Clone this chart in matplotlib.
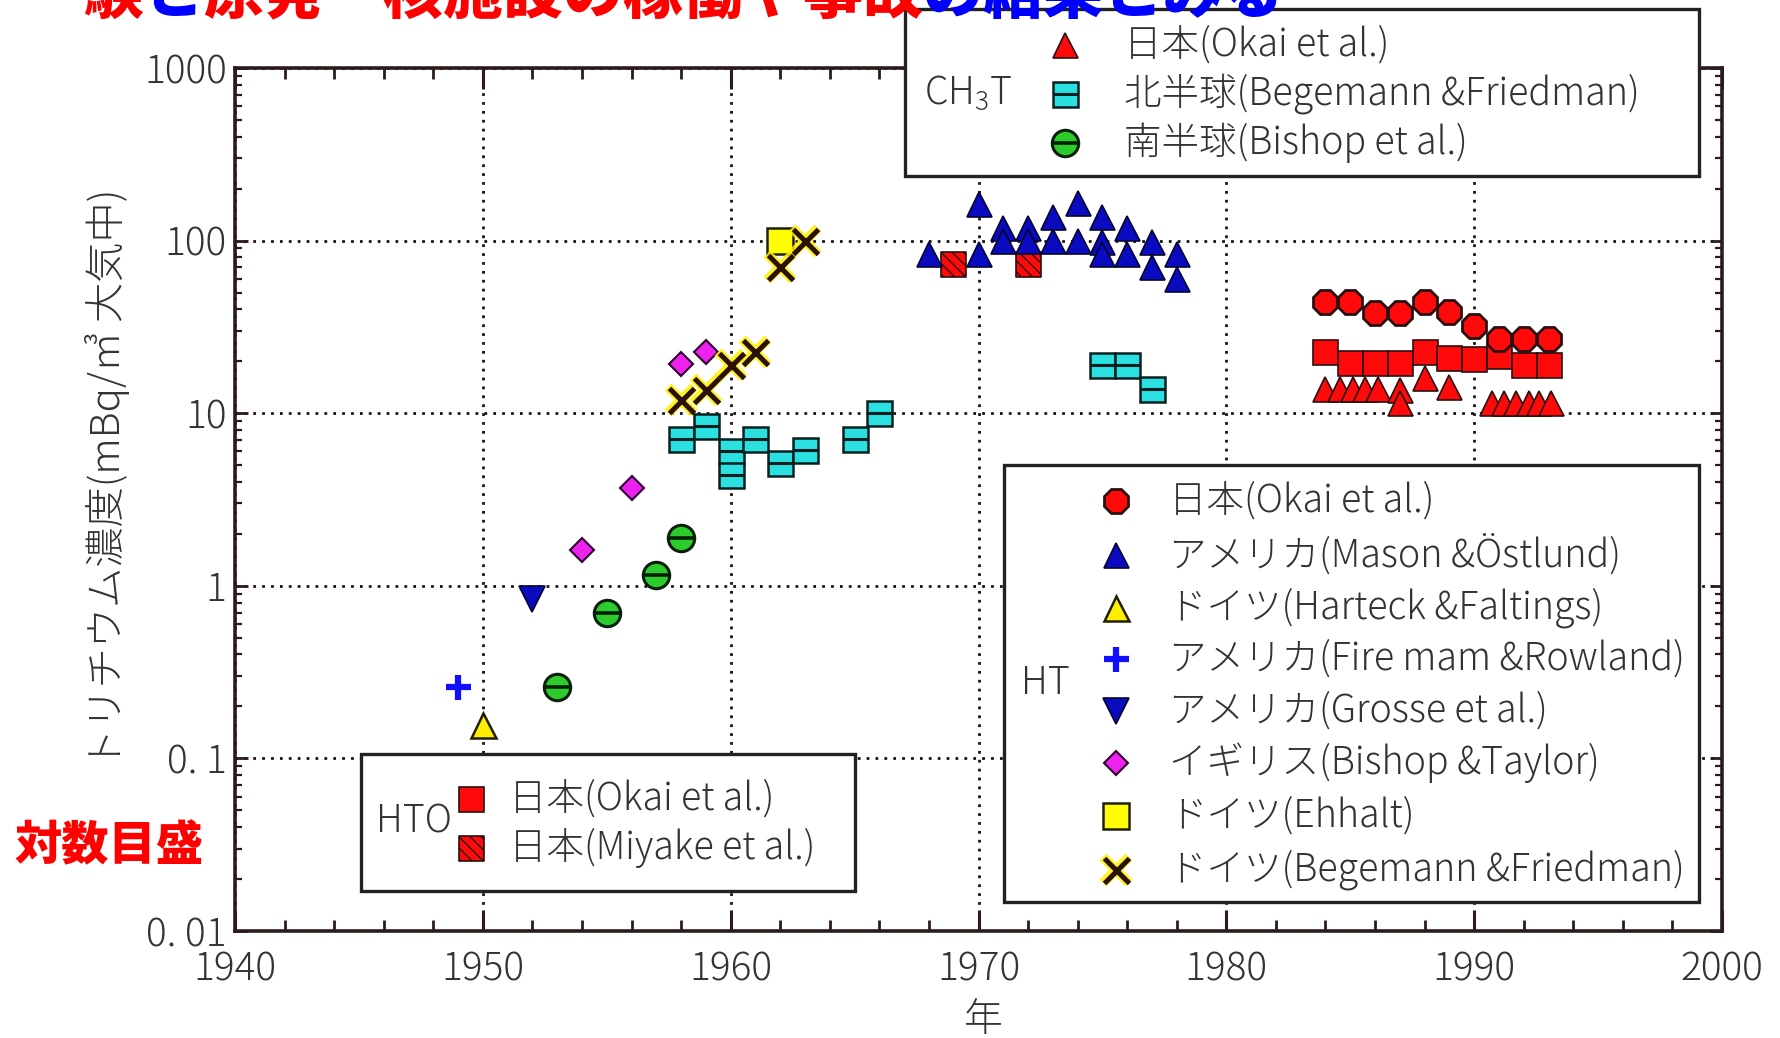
import numpy as np
import matplotlib.pyplot as plt
from matplotlib.patches import Rectangle
from matplotlib.ticker import MultipleLocator, FixedLocator, FixedFormatter, LogLocator, NullFormatter

plt.rcParams['font.family'] = ['Noto Sans CJK JP', 'DejaVu Sans']
plt.rcParams['font.weight'] = 'light'

W, H = 1780, 1038

# ---------------- data (year, mBq/m3) ----------------
# HT
ht_japan_yr = [1984, 1985, 1986, 1987, 1988, 1989, 1990, 1991, 1992, 1993]
ht_japan = [44, 44, 38, 38, 44, 38.5, 32, 27, 27, 27]
mason_yr = [1968, 1970, 1970, 1971, 1971, 1972, 1972, 1973, 1973, 1974, 1974,
            1975, 1975, 1975, 1976, 1976, 1977, 1977, 1978, 1978]
mason = [84, 163, 84, 119, 100, 119, 100, 137, 100, 165, 100,
         137, 98, 84, 118, 84, 98, 70, 84, 60]
harteck_yr = [1950]
harteck = [0.157]
fireman_yr = [1949]
fireman = [0.26]
grosse_yr = [1952]
grosse = [0.84]
bishop_taylor_yr = [1954, 1956, 1958, 1959]
bishop_taylor = [1.62, 3.7, 19.4, 22.6]
ehhalt_yr = [1962]
ehhalt = [100]
begemann_ht_yr = [1958, 1959, 1960, 1961, 1962, 1963]
begemann_ht = [11.9, 13.6, 19.0, 22.6, 70.5, 100]

# CH3T
ch3t_japan_yr = [1984, 1984.6, 1985.1, 1985.6, 1986.1, 1987, 1987, 1988, 1989,
                 1990.7, 1991.2, 1991.7, 1992.2, 1992.6, 1993.1]
ch3t_japan = [13.8, 13.8, 13.8, 13.8, 13.8, 13.6, 11.4, 16.0, 14.2,
              11.5, 11.5, 11.5, 11.5, 11.5, 11.5]
ch3t_north_yr = [1958, 1959, 1960, 1960, 1961, 1962, 1963, 1965, 1966, 1975, 1976, 1977]
ch3t_north = [7.1, 8.4, 6.0, 4.4, 7.1, 5.15, 6.1, 7.1, 10.0, 19.1, 19.1, 13.9]
ch3t_south_yr = [1953, 1955, 1957, 1958]
ch3t_south = [0.26, 0.7, 1.15, 1.9]

# HTO
hto_okai_yr = [1984, 1985, 1986, 1987, 1988, 1989, 1990, 1991, 1992, 1993]
hto_okai = [22.5, 19.5, 19.5, 19.5, 22.5, 21, 20.5, 21.5, 19, 19]
hto_miyake_yr = [1969, 1972]
hto_miyake = [73, 73]

ytick_vals = [0.01, 0.1, 1, 10, 100, 1000]
ytick_text = ['0. 01', '0. 1', '1', '10', '100', '1000']

EDGE = '#2a1010'


def draw(ax, x, y, kind):
    if kind == 'ht_japan':
        ax.plot(x, y, ls='none', marker='8', ms=19, mfc='#ff0a0a', mec=EDGE, mew=2)
    elif kind == 'mason':
        ax.plot(x, y, ls='none', marker='^', ms=18, mfc='#0a0ac0', mec='#050530', mew=1.2)
    elif kind == 'harteck':
        ax.plot(x, y, ls='none', marker='^', ms=18, mfc='#ffee00', mec='#202000', mew=1.8)
    elif kind == 'fireman':
        ax.plot(x, y, ls='none', marker='+', ms=18, color='#1010ff', mew=4.5)
    elif kind == 'grosse':
        ax.plot(x, y, ls='none', marker='v', ms=19, mfc='#0a0ac0', mec='#050530', mew=1.2)
    elif kind == 'bishop_taylor':
        ax.plot(x, y, ls='none', marker='D', ms=12.5, mfc='#ee22ee', mec='#300030', mew=1.5)
    elif kind == 'ehhalt':
        ax.plot(x, y, ls='none', marker='s', ms=19, mfc='#ffff00', mec='#202000', mew=1.8)
    elif kind == 'begemann_ht':
        ax.plot(x, y, ls='none', marker='x', ms=19, color='#fff000', mew=7, alpha=0.85)
        ax.plot(x, y, ls='none', marker='x', ms=18, color='#2b1200', mew=3.6)
    elif kind == 'ch3t_japan':
        ax.plot(x, y, ls='none', marker='^', ms=18, mfc='#ff0a0a', mec=EDGE, mew=1.2)
    elif kind == 'ch3t_north':
        ax.plot(x, y, ls='none', marker='s', ms=18, mfc='#2ae0e0', mec='#0a2020', mew=1.8)
        ax.plot(x, y, ls='none', marker='_', ms=18, color='#0a2020', mew=2.2)
    elif kind == 'ch3t_south':
        ax.plot(x, y, ls='none', marker='o', ms=19, mfc='#2ccc2c', mec='#0a200a', mew=2.2)
        ax.plot(x, y, ls='none', marker='_', ms=18, color='#0a200a', mew=2.6)
    elif kind == 'hto_okai':
        ax.plot(x, y, ls='none', marker='s', ms=18, mfc='#ff0a0a', mec=EDGE, mew=1.2)
    elif kind == 'hto_miyake':
        ax.scatter(x, y, s=18 ** 2, marker='s', c='#ff0a0a', edgecolors=EDGE,
                   linewidths=1.2, hatch='\\\\\\')


fig = plt.figure(figsize=(W / 100, H / 100), dpi=100)
ax = fig.add_axes([235 / W, 1 - 931 / H, (1722 - 235) / W, (931 - 68) / H])

ax.set_yscale('log')
ax.set_xlim(1940, 2000)
ax.set_ylim(0.01, 1000)

ax.grid(True, which='major', ls=(0, (1, 2.2)), lw=2, color='#151515')
ax.set_axisbelow(True)

draw(ax, ch3t_south_yr, ch3t_south, 'ch3t_south')
draw(ax, fireman_yr, fireman, 'fireman')
draw(ax, harteck_yr, harteck, 'harteck')
draw(ax, grosse_yr, grosse, 'grosse')
draw(ax, bishop_taylor_yr, bishop_taylor, 'bishop_taylor')
draw(ax, ch3t_north_yr, ch3t_north, 'ch3t_north')
draw(ax, ehhalt_yr, ehhalt, 'ehhalt')
draw(ax, begemann_ht_yr, begemann_ht, 'begemann_ht')
draw(ax, mason_yr, mason, 'mason')
draw(ax, hto_miyake_yr, hto_miyake, 'hto_miyake')
draw(ax, ch3t_japan_yr, ch3t_japan, 'ch3t_japan')
draw(ax, hto_okai_yr, hto_okai, 'hto_okai')
draw(ax, ht_japan_yr, ht_japan, 'ht_japan')

ax.xaxis.set_major_locator(MultipleLocator(10))
ax.xaxis.set_minor_locator(MultipleLocator(2))
ax.yaxis.set_major_locator(FixedLocator(ytick_vals))
ax.yaxis.set_major_formatter(FixedFormatter(ytick_text))
ax.yaxis.set_minor_locator(LogLocator(base=10, subs=np.arange(2, 10)))
ax.yaxis.set_minor_formatter(NullFormatter())

for s in ax.spines.values():
    s.set_linewidth(2.6)
    s.set_color('#2b1b1b')
ax.tick_params(which='both', direction='in', top=True, right=True, color='#2b1b1b',
               labelcolor='#333333', labelsize=28)
ax.tick_params(axis='x', which='major', length=15, width=2.2, pad=14)
ax.tick_params(axis='x', which='minor', length=8, width=2.0)
ax.tick_params(axis='y', which='major', length=9, width=2.0, pad=6)
ax.tick_params(axis='y', which='minor', length=5, width=1.6)

# ---------------- overlay in pixel coordinates ----------------
ov = fig.add_axes([0, 0, 1, 1], zorder=10)
ov.set_xlim(0, W)
ov.set_ylim(H, 0)
ov.axis('off')

TXT = '#333333'
LSIZE = 27

# title (cut off at the top, as in the source)
em = 60
title_parts = [('験', '#ff0000'), ('と', '#0000ff'),
               ('原発・核施設の稼働や事故', '#ff0000'), ('の結果とみる', '#0000ff')]
pos = 83
for s, c in title_parts:
    ov.text(pos, 13, s, color=c, fontsize=em * 0.72, fontweight='heavy',
            ha='left', va='baseline')
    pos += em * len(s)

# axis labels
ov.text(108, 478, 'トリチウム濃度(mBq/㎥ 大気中)', rotation=90, ha='center', va='center',
        fontsize=29, color=TXT)
ov.text(983, 1020, '年', ha='center', va='center', fontsize=28, color=TXT)
ov.text(14, 846, '対数目盛', ha='left', va='center', fontsize=34, fontweight='heavy',
        color='#ff0000')


def legend_box(x0, y0, x1, y1, group, gx, gy, mx, tx, rows):
    ov.add_patch(Rectangle((x0, y0), x1 - x0, y1 - y0, facecolor='white',
                           edgecolor='#222222', lw=2.4, zorder=1))
    ov.text(gx, gy, group, ha='center', va='center', fontsize=LSIZE, color=TXT)
    for ry, kind, label in rows:
        draw(ov, [mx], [ry], kind)
        ov.text(tx, ry, label, ha='left', va='center', fontsize=LSIZE, color=TXT)


legend_box(905, 9, 1699, 176, r'CH$_\mathregular{3}$T', 968, 93, 1065, 1124,
           [(45, 'ch3t_japan', '日本(Okai et al.)'),
            (94, 'ch3t_north', '北半球(Begemann &Friedman)'),
            (143, 'ch3t_south', '南半球(Bishop et al.)')])

legend_box(1004, 465, 1699, 902, 'HT', 1045, 683, 1116, 1169,
           [(501, 'ht_japan', '日本(Okai et al.)'),
            (555, 'mason', 'アメリカ(Mason &Östlund)'),
            (608, 'harteck', 'ドイツ(Harteck &Faltings)'),
            (659, 'fireman', 'アメリカ(Fire mam &Rowland)'),
            (711, 'grosse', 'アメリカ(Grosse et al.)'),
            (763, 'bishop_taylor', 'イギリス(Bishop &Taylor)'),
            (816, 'ehhalt', 'ドイツ(Ehhalt)'),
            (870, 'begemann_ht', 'ドイツ(Begemann &Friedman)')])

legend_box(361, 754, 855, 891, 'HTO', 414, 822, 471, 509,
           [(799, 'hto_okai', '日本(Okai et al.)'),
            (848, 'hto_miyake', '日本(Miyake et al.)')])

fig.savefig('out.png', dpi=100)
